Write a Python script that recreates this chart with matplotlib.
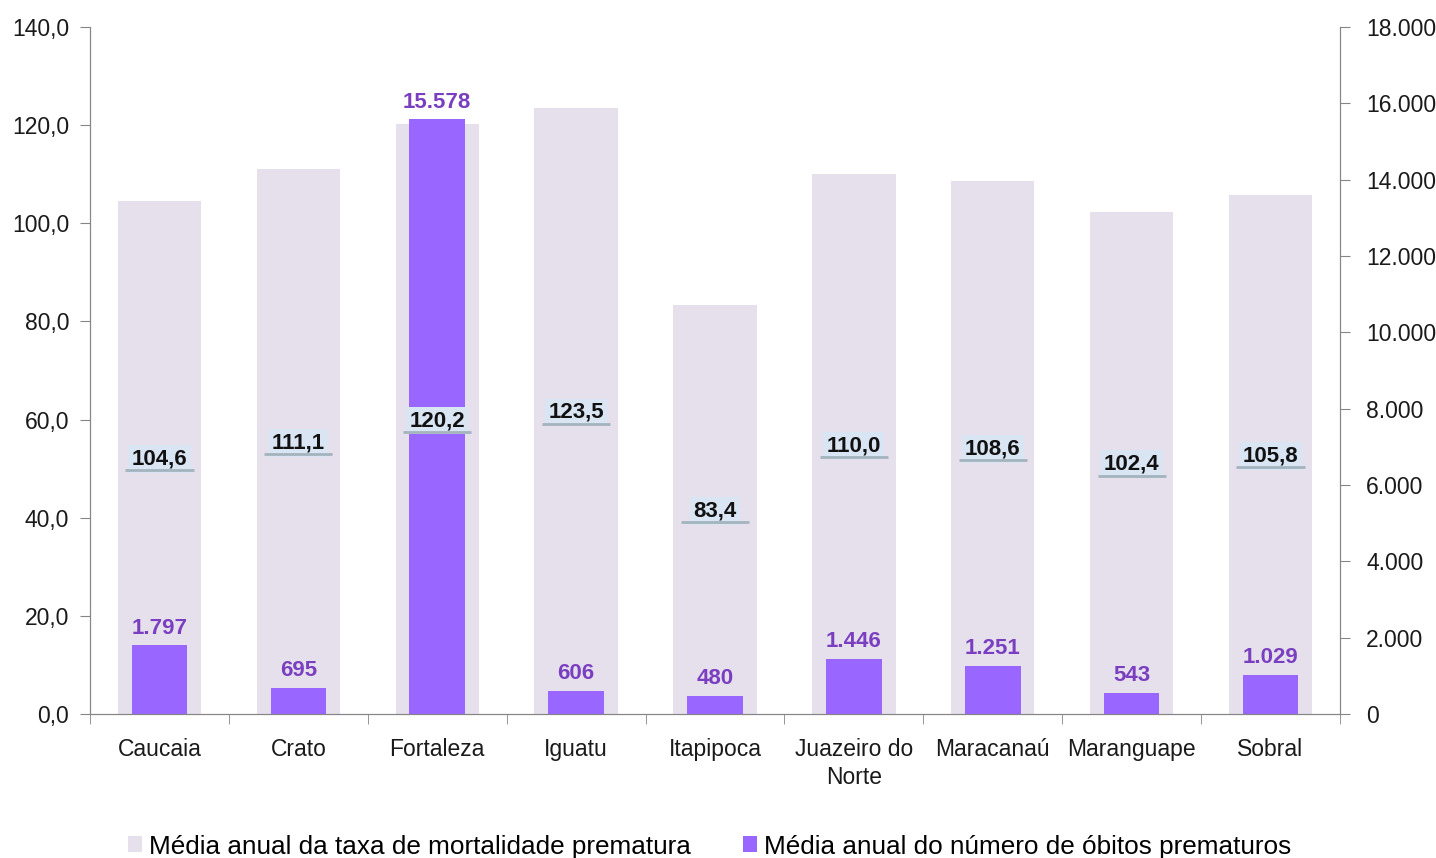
import numpy as np
import matplotlib.pyplot as plt
from matplotlib.ticker import FuncFormatter, FixedLocator

plt.rcParams['font.family'] = ['Liberation Sans', 'DejaVu Sans']

# data
cidades = ['Caucaia', 'Crato', 'Fortaleza', 'Iguatu', 'Itapipoca',
           'Juazeiro do\nNorte', 'Maracanaú', 'Maranguape', 'Sobral']
taxa = [104.6, 111.1, 120.2, 123.5, 83.4, 110.0, 108.6, 102.4, 105.8]
obitos = [1797, 695, 15578, 606, 480, 1446, 1251, 543, 1029]

cor_taxa = '#E6E0EC'
cor_obitos = '#9966FF'
cor_rotulo = '#7A3FC0'
cor_eixo = '#868686'

fig = plt.figure(figsize=(14.36, 8.58), dpi=100)
ax = fig.add_axes([0.0627, 0.1678, 0.8704, 0.8007])
ax2 = ax.twinx()

x = np.arange(len(cidades))

# light bars (left axis)
ax.bar(x, taxa, width=0.6, color=cor_taxa, label='Média anual da taxa de mortalidade prematura')
ax.set_ylim(0, 140)
ax.set_yticks(np.arange(0, 141, 20))
ax.yaxis.set_major_formatter(FuncFormatter(lambda v, p: f'{v:.1f}'.replace('.', ',')))

# purple bars (right axis)
ax2.bar(x, obitos, width=0.4, color=cor_obitos, label='Média anual do número de óbitos prematuros')
ax2.set_ylim(0, 18000)
ax2.set_yticks(np.arange(0, 18001, 2000))
ax2.yaxis.set_major_formatter(FuncFormatter(lambda v, p: f'{int(v):,}'.replace(',', '.')))

ax.set_xlim(-0.5, len(cidades) - 0.5)
ax.set_xticks(x)
ax.set_xticklabels(cidades, linespacing=1.3)
ax.xaxis.set_minor_locator(FixedLocator(np.arange(-0.5, len(cidades), 1.0)))
ax.tick_params(axis='x', which='major', length=0, labelsize=16.5, pad=17, colors='#1a1a1a')
ax.tick_params(axis='x', which='minor', length=7, direction='out', color=cor_eixo)
ax.tick_params(axis='y', length=7, direction='out', color=cor_eixo, labelsize=16.5,
               labelcolor='#1a1a1a', pad=8)
ax2.tick_params(axis='y', length=7, direction='out', color=cor_eixo, labelsize=16.5,
                labelcolor='#1a1a1a', pad=12)

for a in (ax, ax2):
    a.spines['top'].set_visible(False)
    for s in ('left', 'right', 'bottom'):
        a.spines[s].set_color(cor_eixo)

# labels for deaths above purple bars
for xi, v in zip(x, obitos):
    ax2.text(xi, v + 180, f'{v:,}'.replace(',', '.'), ha='center', va='bottom',
             fontsize=16, fontweight='bold', color=cor_rotulo)

# labels for rate in middle of light bars
for xi, v in zip(x, taxa):
    ax2.text(xi, v / 2 - 0.3, f'{v:.1f}'.replace('.', ','), transform=ax.transData,
             ha='center', va='center', fontsize=16, fontweight='bold', color='#111111',
             bbox=dict(boxstyle='square,pad=0.15', fc='#DAE5F3', ec='none'), zorder=5)
    ax2.plot([xi - 0.245, xi + 0.245], [v / 2 - 2.6, v / 2 - 2.6], transform=ax.transData,
             color='#A3B4BE', lw=2.0, zorder=6, solid_capstyle='butt')

h1, l1 = ax.get_legend_handles_labels()
h2, l2 = ax2.get_legend_handles_labels()
fig.legend(h1 + h2, l1 + l2, loc='lower center', bbox_to_anchor=(0.494, -0.028), ncol=2,
           frameon=False, fontsize=18.8, handlelength=0.55, handleheight=0.55,
           handletextpad=0.25, columnspacing=2.0)

fig.savefig('out.png', dpi=100)
